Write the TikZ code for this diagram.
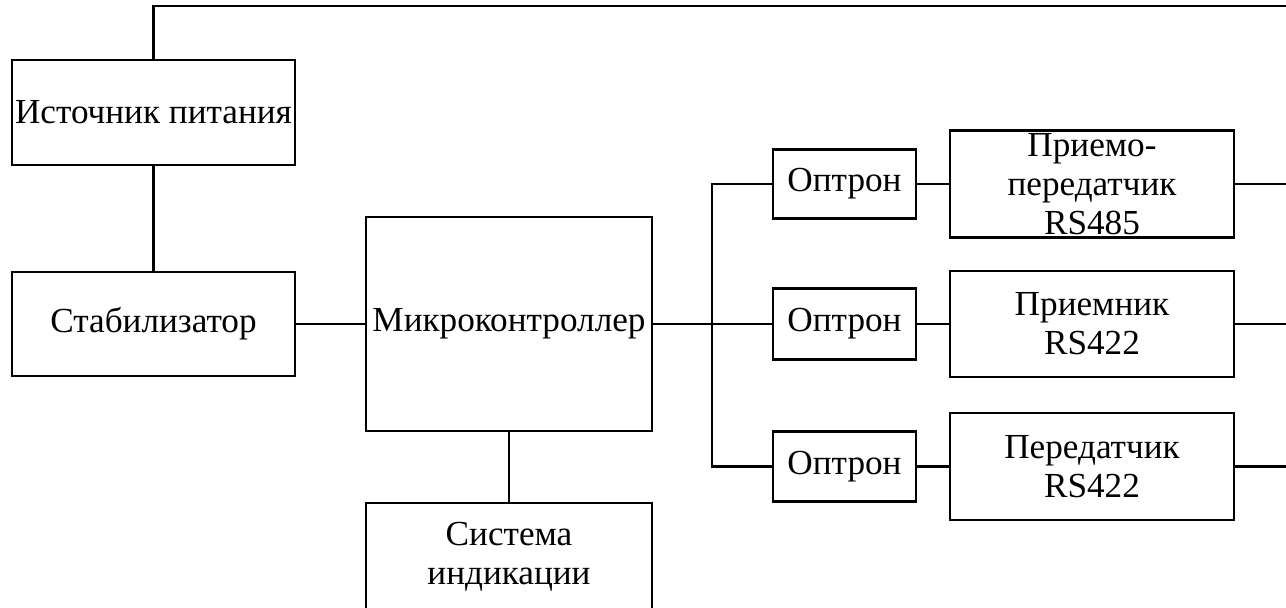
\documentclass[tikz,border=0pt]{standalone}
\usepackage{fontspec}
\setmainfont{Liberation Serif}
\begin{document}
\begin{tikzpicture}[x=0.5pt,y=-0.5pt,
  blk/.style={draw, line width=1.1pt, inner sep=0pt, align=center, font=\fontsize{17.6}{19.5}\selectfont},
  wire/.style={line width=1.1pt}]
\useasboundingbox (0,0) rectangle (1286,608);
\node[blk, minimum width=141.5pt, minimum height=52.5pt] (src) at (153.5,112.5) {Источник питания};
\node[blk, minimum width=141.5pt, minimum height=52pt] (stab) at (153.5,324) {Стабилизатор};
\node[blk, minimum width=143pt, minimum height=107pt] (mcu) at (509,324) {Микроконтроллер};
\node[blk, minimum width=143pt, minimum height=54pt] (ind) at (509,557) {Система\\индикации};
\node[blk, minimum width=71.5pt, minimum height=34.5pt] (o1) at (844.5,184) {Оптрон};
\node[blk, minimum width=71.5pt, minimum height=35.5pt] (o2) at (844.5,324) {Оптрон};
\node[blk, minimum width=71.5pt, minimum height=35pt] (o3) at (844.5,466.5) {Оптрон};
\node[blk, minimum width=142pt, minimum height=53.5pt] (r1) at (1092,184) {Приемо-\\передатчик\\RS485};
\node[blk, minimum width=142pt, minimum height=53pt] (r2) at (1092,324) {Приемник\\RS422};
\node[blk, minimum width=142pt, minimum height=53.5pt] (r3) at (1092,466.5) {Передатчик\\RS422};
\coordinate (topR) at (1290,6);
\coordinate (b1) at (712,184);
\coordinate (b3) at (712,466.5);
\coordinate (e1) at (1290,184);
\coordinate (e2) at (1290,324);
\coordinate (e3) at (1290,466.5);
\draw[wire] (src.north) |- (topR);
\draw[wire] (src.south) -- (stab.north);
\draw[wire] (stab.east) -- (mcu.west);
\draw[wire] (mcu.south) -- (ind.north);
\draw[wire] (mcu.east) -- (o2.west);
\draw[wire] (o1.west) -- (b1) -- (b3) -- (o3.west);
\draw[wire] (o1.east) -- (r1.west);
\draw[wire] (o2.east) -- (r2.west);
\draw[wire] (o3.east) -- (r3.west);
\draw[wire] (r1.east) -- (e1);
\draw[wire] (r2.east) -- (e2);
\draw[wire] (r3.east) -- (e3);
\end{tikzpicture}
\end{document}
